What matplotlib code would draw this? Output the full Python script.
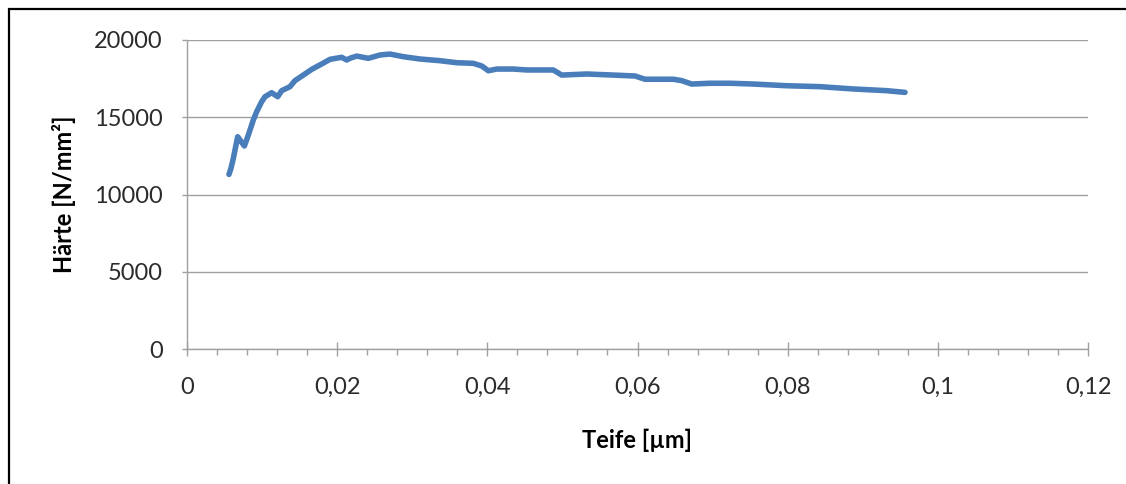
import matplotlib
matplotlib.use("Agg")
import matplotlib.pyplot as plt
from matplotlib.patches import Rectangle
from matplotlib.ticker import MultipleLocator

plt.rcParams['font.family'] = ['Lato', 'DejaVu Sans']

# Nanoindentation hardness profile
depth_um = [0.00559, 0.00586, 0.00617, 0.00675, 0.00706, 0.00764, 0.00817, 0.00883,
            0.00928, 0.00995, 0.01039, 0.01128, 0.01208, 0.01261, 0.01372, 0.01438,
            0.01549, 0.01661, 0.01794, 0.01905, 0.02060, 0.02127, 0.02171, 0.02260,
            0.02415, 0.02571, 0.02704, 0.02881, 0.03103, 0.03370, 0.03592, 0.03813,
            0.03925, 0.04014, 0.04125, 0.04347, 0.04524, 0.04702, 0.04879, 0.04990,
            0.05324, 0.05678, 0.05967, 0.06100, 0.06478, 0.06589, 0.06722, 0.06966,
            0.07232, 0.07543, 0.07987, 0.08431, 0.08874, 0.09319, 0.09563]
hardness = [11300, 11700, 12340, 13740, 13530, 13140, 13850, 14820,
            15360, 16010, 16330, 16590, 16330, 16720, 16980, 17370,
            17730, 18100, 18450, 18750, 18880, 18705, 18820, 18960,
            18815, 19030, 19090, 18920, 18770, 18660, 18530, 18490,
            18320, 18010, 18120, 18120, 18060, 18060, 18060, 17730,
            17800, 17730, 17670, 17460, 17460, 17370, 17150, 17200,
            17200, 17150, 17040, 16980, 16830, 16720, 16610]

x_ticks = [0, 0.02, 0.04, 0.06, 0.08, 0.1, 0.12]
x_tick_labels = ["0", "0,02", "0,04", "0,06", "0,08", "0,1", "0,12"]
y_ticks = [0, 5000, 10000, 15000, 20000]

W, H = 1126, 484
fig = plt.figure(figsize=(W / 100, H / 100), dpi=100)
ax = fig.add_axes([187 / W, 1 - 349 / H, (1088 - 187) / W, (349 - 40) / H])

grid_col = '#a0a0a0'
text_col = '#2b2b2b'

ax.plot(depth_um, hardness, color='#4a7ebb', lw=4.0, solid_capstyle='round',
        solid_joinstyle='round', zorder=3)

ax.set_xlim(0, 0.12)
ax.set_ylim(0, 20000)
ax.set_xticks(x_ticks)
ax.set_xticklabels(x_tick_labels)
ax.xaxis.set_minor_locator(MultipleLocator(0.004))
ax.set_yticks(y_ticks)

ax.yaxis.grid(True, color=grid_col, lw=1.0)
ax.set_axisbelow(True)
for s in ['top', 'right']:
    ax.spines[s].set_visible(False)
for s in ['left', 'bottom']:
    ax.spines[s].set_color(grid_col)
    ax.spines[s].set_linewidth(1.0)

ax.tick_params(axis='x', which='major', direction='inout', length=10, width=1,
               color=grid_col, labelsize=17, labelcolor=text_col, pad=15)
ax.tick_params(axis='x', which='minor', direction='out', length=4.3, width=1,
               color=grid_col)
ax.tick_params(axis='y', which='major', direction='out', length=3.6, width=1,
               color=grid_col, labelsize=17, labelcolor=text_col, pad=14)

ax.set_xlabel("Teife [µm]", fontsize=17, fontweight='bold', color='black', labelpad=22)
ax.set_ylabel("Härte [N/mm²]", fontsize=17, fontweight='bold', color='black', labelpad=13)

# Frame around the chart area
fig.patches.append(Rectangle((9 / W, -0.1), 1.2, 1 - 9 / H + 0.1,
                             transform=fig.transFigure, fill=False,
                             edgecolor='black', lw=1.6, zorder=10))

fig.savefig("out.png", dpi=100)
